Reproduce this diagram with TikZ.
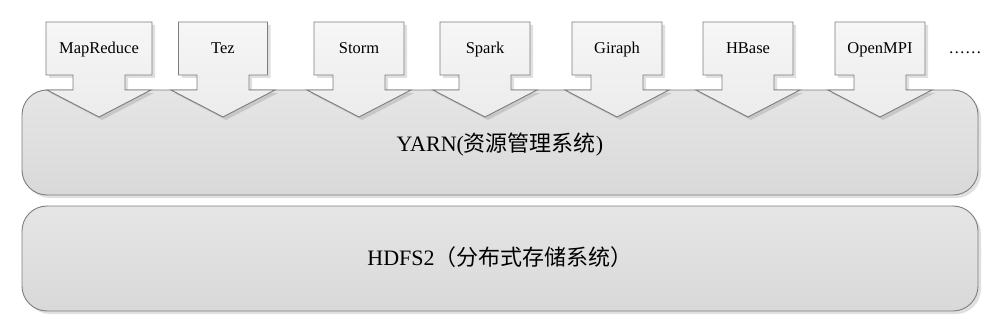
\documentclass[tikz,border=0pt]{standalone}
\usepackage{fontspec}
\setmainfont{Liberation Serif}
\newfontfamily\cjk{Noto Sans CJK SC}
\usetikzlibrary{shadows}
\definecolor{edgegray}{RGB}{125,125,125}
\begin{document}
\begin{tikzpicture}[
    x=1pt, y=-1pt,
    softshadow/.style={drop shadow={shadow xshift=3pt, shadow yshift=-3pt, fill=black, opacity=0.12}},
    apparrow/.style={draw=edgegray, line width=0.9pt, top color=gray!7, bottom color=gray!15, softshadow},
    applabel/.style={anchor=base, font=\fontsize{16.5}{19}\selectfont},
    layer/.style={rectangle, rounded corners=25pt, draw=edgegray, line width=0.9pt, top color=gray!20, bottom color=gray!30,
        minimum width=956pt, minimum height=105pt, softshadow},
    layerlabel/.style={anchor=base, font=\fontsize{22}{26}\selectfont}
]
\useasboundingbox (0,0) rectangle (990,318);

% layers
\node (yarn) [layer] at (500,142.5) {};
\node (hdfs) [layer] at (500,258.5) {};
\node (yarnlbl) [layerlabel] at (500,151) {YARN({\cjk 资源管理系统})};
\node (hdfslbl) [layerlabel] at (500,265) {HDFS2{\cjk （分布式存储系统）}};

% frameworks on top of YARN
\foreach \cx/\bw/\lbl/\nm in {99/53/MapReduce/mr, 223/44.5/Tez/tez, 359/45/Storm/storm, 485/45/Spark/spark,
                              617/45/Giraph/giraph, 748/45/HBase/hbase, 880/45/OpenMPI/openmpi}
{
  \draw [apparrow] (\cx-\bw,22) -- (\cx+\bw,22) -- (\cx+\bw,75) -- (\cx+26,75) -- (\cx+26,90) -- (\cx+52,90)
      -- (\cx,117) -- (\cx-52,90) -- (\cx-26,90) -- (\cx-26,75) -- (\cx-\bw,75) -- cycle;
  \node (\nm) [applabel] at (\cx,54) {\lbl};
}
\node (more) [applabel] at (965,54) {……};

\end{tikzpicture}
\end{document}
